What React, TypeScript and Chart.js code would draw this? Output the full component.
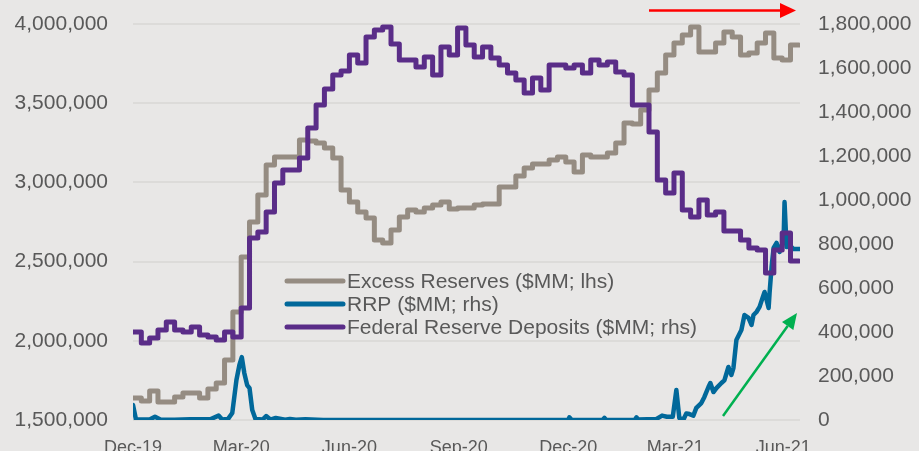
import React, { useEffect, useRef } from "react";
import { Chart, registerables } from "chart.js";

Chart.register(...registerables);

// ---- Axis / category data ----
const TICK_LABELS = ["Dec-19", "Mar-20", "Jun-20", "Sep-20", "Dec-20", "Mar-21", "Jun-21"];
const TICK_DAYS = [0, 91, 182, 274, 366, 456, 547]; // days from first label
const X_MAX_DAY = 561;
const WEEK_STEP_DAYS = 7;

const LEFT_MIN = 1500000;
const LEFT_MAX = 4000000;
const LEFT_STEP = 500000;
const RIGHT_MIN = 0;
const RIGHT_MAX = 1800000;
const RIGHT_STEP = 200000;

const SERIES_NAMES = [
  "Excess Reserves ($MM; lhs)",
  "RRP ($MM; rhs)",
  "Federal Reserve Deposits ($MM; rhs)",
];

// ---- Weekly series ($MM) ----
const EXCESS_RESERVES = [
  1639000, 1620000, 1683000, 1614000, 1614000, 1645000, 1670000, 1670000, 1639000, 1696000,
  1734000, 1879000, 2182000, 2529000, 2750000, 2920000, 3110000, 3160000, 3160000, 3160000,
  3268000, 3261000, 3249000, 3217000, 3154000, 2952000, 2876000, 2813000, 2775000, 2636000,
  2617000, 2700000, 2782000, 2826000, 2813000, 2838000, 2857000, 2876000, 2832000, 2838000,
  2838000, 2857000, 2864000, 2864000, 2971000, 2971000, 3040000, 3091000, 3116000, 3116000,
  3141000, 3160000, 3129000, 3066000, 3173000, 3160000, 3160000, 3186000, 3249000, 3375000,
  3369000, 3457000, 3583000, 3691000, 3804000, 3880000, 3931000, 3981000, 3823000, 3823000,
  3880000, 3949000, 3918000, 3804000, 3817000, 3880000, 3943000, 3785000, 3773000, 3867000,
  3867000,
];

const FED_DEPOSITS = [
  400000, 350000, 373000, 409000, 445000, 409000, 400000, 423000, 386000, 377000,
  364000, 400000, 377000, 509000, 827000, 855000, 945000, 1077000, 1136000, 1136000,
  1191000, 1327000, 1432000, 1505000, 1568000, 1586000, 1659000, 1623000, 1741000, 1773000,
  1786000, 1709000, 1636000, 1636000, 1605000, 1650000, 1568000, 1695000, 1659000, 1782000,
  1705000, 1650000, 1695000, 1645000, 1614000, 1577000, 1545000, 1486000, 1555000, 1500000,
  1614000, 1614000, 1600000, 1614000, 1577000, 1636000, 1614000, 1627000, 1582000, 1568000,
  1432000, 1432000, 1309000, 1091000, 1032000, 1123000, 955000, 923000, 1000000, 932000,
  945000, 859000, 859000, 818000, 782000, 773000, 668000, 773000, 850000, 723000,
  723000,
];

// ---- Daily-ish RRP ($MM) ----
const RRP_DAYS = [
  0, 2.5, 14, 18.5, 23, 35, 48, 65, 72, 75, 80, 83.5, 87, 89.5, 91.5, 93.6, 96, 98, 100.3, 103,
  109, 112, 115.5, 120, 128, 132, 137, 145, 160, 250, 366, 367, 369, 395, 396.5, 398, 422,
  423.5, 425, 440, 445, 449, 454, 457, 459.5, 463, 465.4, 468, 471.3, 473.8, 478, 480.6, 484,
  485.6, 488.2, 490.7, 494.9, 497.4, 500.8, 503.3, 505, 507.5, 511.7, 514.3, 517.7, 520.2,
  521.9, 524.4, 527, 529.5, 531.2, 534.6, 535.4, 537.1, 538.8, 541.3, 543.8, 547.2, 548,
  549.7, 552.2, 555.6, 561,
];
const RRP_VALUES = [
  68000, 2000, 2000, 15000, 2000, 1000, 3000, 3000, 20000, 2000, 5000, 32000, 182000, 250000,
  286000, 214000, 159000, 145000, 45000, 5000, 2000, 18000, 2000, 9000, 1000, 5000, 1000, 3000,
  0, 0, 0, 12000, 0, 0, 10000, 0, 0, 12000, 2000, 4000, 20000, 15000, 15000, 136000, 9000, 2000,
  30000, 27000, 20000, 55000, 77000, 105000, 150000, 168000, 127000, 145000, 168000, 180000,
  241000, 205000, 236000, 364000, 409000, 477000, 464000, 432000, 477000, 491000, 514000,
  555000, 582000, 509000, 577000, 695000, 782000, 805000, 764000, 818000, 991000, 786000,
  795000, 777000, 777000,
];

// ---- Styles ----
const BG = "#e8e7e6";
const GRID = "#dcdbd9";
const TEXT = "#595959";
const GRAY = "#958c82";
const BLUE = "#01689a";
const PURPLE = "#5a2d88";
const FONT = "'Liberation Sans', Arial, sans-serif";

const fmt = (v: number) => Math.round(v).toLocaleString("en-US");

function drawArrow(
  ctx: CanvasRenderingContext2D,
  x1: number, y1: number, x2: number, y2: number,
  color: string, lw: number, headLen: number, headW: number
) {
  const ang = Math.atan2(y2 - y1, x2 - x1);
  const bx = x2 - headLen * Math.cos(ang);
  const by = y2 - headLen * Math.sin(ang);
  ctx.save();
  ctx.strokeStyle = color;
  ctx.fillStyle = color;
  ctx.lineWidth = lw;
  ctx.beginPath();
  ctx.moveTo(x1, y1);
  ctx.lineTo(bx, by);
  ctx.stroke();
  ctx.beginPath();
  ctx.moveTo(x2, y2);
  ctx.lineTo(bx + (headW / 2) * Math.sin(ang), by - (headW / 2) * Math.cos(ang));
  ctx.lineTo(bx - (headW / 2) * Math.sin(ang), by + (headW / 2) * Math.cos(ang));
  ctx.closePath();
  ctx.fill();
  ctx.restore();
}

const overlayPlugin = {
  id: "overlay",
  beforeDraw(chart: any) {
    const { ctx, width, height } = chart;
    ctx.save();
    ctx.fillStyle = BG;
    ctx.fillRect(0, 0, width, height);
    ctx.restore();
  },
  afterDraw(chart: any) {
    const { ctx, chartArea: ca } = chart;
    // Legend
    const colors = [GRAY, BLUE, PURPLE];
    const lx0 = ca.left + 154;
    const lx1 = ca.left + 210;
    const tx = ca.left + 214;
    ctx.save();
    ctx.font = `21px ${FONT}`;
    ctx.textAlign = "left";
    ctx.textBaseline = "alphabetic";
    SERIES_NAMES.forEach((name, i) => {
      const yMid = ca.top + 257 + i * 23;
      ctx.strokeStyle = colors[i];
      ctx.lineWidth = 5;
      ctx.lineCap = "round";
      ctx.beginPath();
      ctx.moveTo(lx0, yMid);
      ctx.lineTo(lx1, yMid);
      ctx.stroke();
      ctx.fillStyle = TEXT;
      ctx.fillText(name, tx, yMid + 6.5);
    });
    ctx.restore();
    // Arrows
    drawArrow(ctx, ca.right - 151, ca.top - 13.5, ca.right - 4, ca.top - 13.5, "#ff0000", 2.5, 16, 15);
    drawArrow(ctx, ca.right - 77, ca.bottom - 4, ca.right - 3, ca.bottom - 107, "#00b050", 2.5, 16, 14);
  },
};

export default function App() {
  const canvasRef = useRef<HTMLCanvasElement | null>(null);

  useEffect(() => {
    document.body.style.margin = "0";
    document.body.style.background = BG;
    const canvas = canvasRef.current;
    if (!canvas) return;

    const fixVertical = (scale: any, width: number) => {
      scale.width = width;
      scale.paddingTop = 12;
      scale.paddingBottom = 12;
    };

    const chart = new Chart(canvas, {
      type: "line",
      data: {
        datasets: [
          {
            label: SERIES_NAMES[0],
            data: EXCESS_RESERVES.map((v, i) => ({ x: i * WEEK_STEP_DAYS, y: v })),
            yAxisID: "yL",
            borderColor: GRAY,
            backgroundColor: GRAY,
            borderWidth: 5,
            stepped: true,
            pointRadius: 0,
            borderJoinStyle: "round",
            borderCapStyle: "round",
            order: 3,
          },
          {
            label: SERIES_NAMES[1],
            data: RRP_DAYS.map((d, i) => ({ x: d, y: RRP_VALUES[i] })),
            yAxisID: "yR",
            borderColor: BLUE,
            backgroundColor: BLUE,
            borderWidth: 4.5,
            tension: 0,
            pointRadius: 0,
            borderJoinStyle: "round",
            borderCapStyle: "round",
            order: 2,
          },
          {
            label: SERIES_NAMES[2],
            data: FED_DEPOSITS.map((v, i) => ({ x: i * WEEK_STEP_DAYS, y: v })),
            yAxisID: "yR",
            borderColor: PURPLE,
            backgroundColor: PURPLE,
            borderWidth: 5,
            stepped: true,
            pointRadius: 0,
            borderJoinStyle: "round",
            borderCapStyle: "round",
            order: 1,
          },
        ],
      },
      options: {
        animation: false,
        responsive: false,
        devicePixelRatio: 1,
        layout: { padding: { top: 24, left: 0, right: 0, bottom: 0 } },
        plugins: {
          legend: { display: false },
          tooltip: { enabled: false },
        },
        scales: {
          x: {
            type: "linear",
            position: "bottom",
            min: 0,
            max: X_MAX_DAY,
            grid: { display: false },
            border: { display: false },
            ticks: {
              autoSkip: false,
              maxRotation: 0,
              padding: 9,
              color: TEXT,
              font: { family: FONT, size: 18 },
              callback: (value: any) => {
                const idx = TICK_DAYS.indexOf(Number(value));
                return idx >= 0 ? TICK_LABELS[idx] : "";
              },
            },
            afterBuildTicks: (scale: any) => {
              scale.ticks = TICK_DAYS.map((v) => ({ value: v }));
            },
            afterFit: (scale: any) => {
              scale.height = 31;
            },
          },
          yL: {
            type: "linear",
            position: "left",
            min: LEFT_MIN,
            max: LEFT_MAX,
            grid: { color: GRID, lineWidth: 2, drawTicks: false },
            border: { display: false },
            ticks: {
              stepSize: LEFT_STEP,
              padding: 25,
              color: TEXT,
              font: { family: FONT, size: 21 },
              callback: (v: any) => fmt(Number(v)),
            },
            afterFit: (scale: any) => fixVertical(scale, 133),
          },
          yR: {
            type: "linear",
            position: "right",
            min: RIGHT_MIN,
            max: RIGHT_MAX,
            grid: { display: false, drawTicks: false },
            border: { display: false },
            ticks: {
              stepSize: RIGHT_STEP,
              padding: 18,
              color: TEXT,
              font: { family: FONT, size: 21 },
              callback: (v: any) => fmt(Number(v)),
            },
            afterFit: (scale: any) => fixVertical(scale, 119),
          },
        },
      },
      plugins: [overlayPlugin],
    } as any);

    return () => {
      chart.destroy();
    };
  }, []);

  return (
    <div style={{ width: 919, height: 451, background: BG, overflow: "hidden" }}>
      <canvas ref={canvasRef} width={919} height={451} style={{ display: "block" }} />
    </div>
  );
}
